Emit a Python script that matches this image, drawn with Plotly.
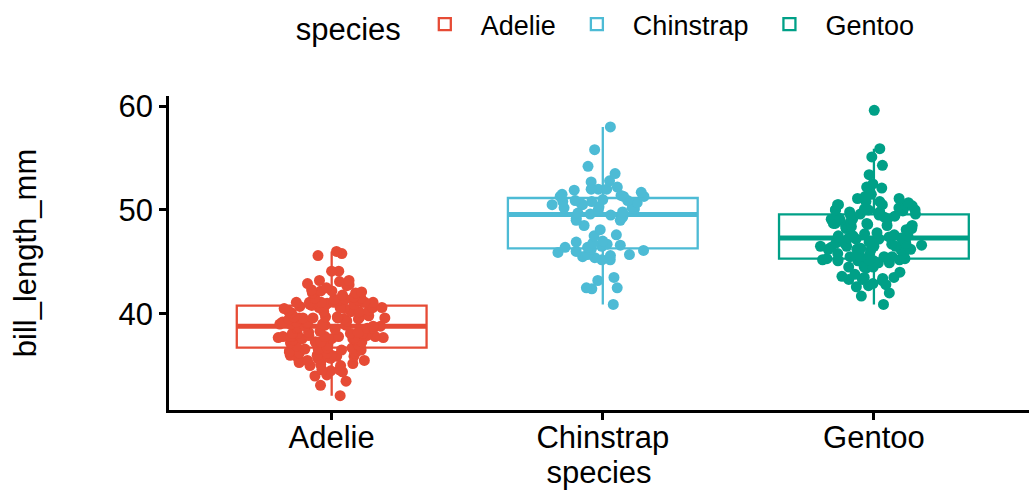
import numpy as np
import plotly.graph_objects as go

# Palmer penguins: bill length (mm) by species
species = ["Adelie", "Chinstrap", "Gentoo"]
colors = ["#E64B35", "#4DBBD5", "#00A087"]

adelie = [39.1, 39.5, 40.3, 36.7, 39.3, 38.9, 39.2, 34.1, 42.0, 37.8, 37.8, 41.1, 38.6, 34.6,
          36.6, 38.7, 42.5, 34.4, 46.0, 37.8, 37.7, 35.9, 38.2, 38.8, 35.3, 40.6, 40.5, 37.9,
          40.5, 39.5, 37.2, 39.5, 40.9, 36.4, 39.2, 38.8, 42.2, 37.6, 39.8, 36.5, 40.8, 36.0,
          44.1, 37.0, 39.6, 41.1, 37.5, 36.0, 42.3, 39.6, 40.1, 35.0, 42.0, 34.5, 41.4, 39.0,
          40.6, 36.5, 37.6, 35.7, 41.3, 37.6, 41.1, 36.4, 41.6, 35.5, 41.1, 35.9, 41.8, 33.5,
          39.7, 39.6, 45.8, 35.5, 42.8, 40.9, 37.2, 36.2, 42.1, 34.6, 42.9, 36.7, 35.1, 37.3,
          41.3, 36.3, 36.9, 38.3, 38.9, 35.7, 41.1, 34.0, 39.6, 36.2, 40.8, 38.1, 40.3, 33.1,
          43.2, 35.0, 41.0, 37.7, 37.8, 37.9, 39.7, 38.6, 38.2, 38.1, 43.2, 38.1, 45.6, 39.7,
          42.2, 39.6, 42.7, 38.6, 37.3, 35.7, 41.1, 36.2, 37.7, 40.2, 41.4, 35.2, 40.6, 38.8,
          41.5, 39.0, 44.1, 38.5, 43.1, 36.8, 37.5, 38.1, 41.1, 35.6, 40.2, 37.0, 39.7, 40.2,
          40.6, 32.1, 40.7, 37.3, 39.0, 39.2, 36.6, 36.0, 37.8, 36.0, 41.5]

chinstrap = [46.5, 50.0, 51.3, 45.4, 52.7, 45.2, 46.1, 51.3, 46.0, 51.3, 46.6, 51.7, 47.0, 52.0,
             45.9, 50.5, 50.3, 58.0, 46.4, 49.2, 42.4, 48.5, 43.2, 50.6, 46.7, 52.0, 50.5, 49.5,
             46.4, 52.8, 40.9, 54.2, 42.5, 51.0, 49.7, 47.5, 47.6, 52.0, 46.9, 53.5, 49.0, 46.2,
             50.9, 45.5, 50.9, 50.8, 50.1, 49.0, 51.5, 49.8, 48.1, 51.4, 45.7, 50.7, 42.5, 52.2,
             45.2, 49.3, 50.2, 45.6, 51.9, 46.8, 45.7, 55.8, 43.5, 49.6, 50.8, 50.2]

gentoo = [46.1, 50.0, 48.7, 50.0, 47.6, 46.5, 45.4, 46.7, 43.3, 46.8, 40.9, 49.0, 45.5, 48.4,
          45.8, 49.3, 42.0, 49.2, 46.2, 48.7, 50.2, 45.1, 46.5, 46.3, 42.9, 46.1, 44.5, 47.8,
          48.2, 50.0, 47.3, 42.8, 45.1, 59.6, 49.1, 48.4, 42.6, 44.4, 44.0, 48.7, 42.7, 49.6,
          45.3, 49.6, 50.5, 43.6, 45.5, 50.5, 44.9, 45.2, 46.6, 48.5, 45.1, 50.1, 46.5, 45.0,
          43.8, 45.5, 43.2, 50.4, 45.3, 46.2, 45.7, 54.3, 45.8, 49.8, 46.2, 49.5, 43.5, 50.7,
          47.7, 46.4, 48.2, 46.5, 46.4, 48.6, 47.5, 51.1, 45.2, 45.2, 49.1, 52.5, 47.4, 50.0,
          44.9, 50.8, 43.4, 51.3, 47.5, 52.1, 47.5, 52.2, 45.5, 49.5, 44.5, 50.8, 49.4, 46.9,
          48.4, 51.1, 48.5, 55.9, 47.2, 49.1, 47.3, 46.8, 41.7, 53.4, 43.3, 48.1, 50.5, 49.8,
          43.5, 51.5, 46.2, 55.1, 44.5, 48.8, 47.2, 46.8, 50.4, 45.2, 49.9]

values = [adelie, chinstrap, gentoo]
y_ticks = [40, 50, 60]

FONT = "Liberation Sans, Arial, Helvetica, sans-serif"
BOX_W = 0.7

fig = go.Figure()

# thick median bars underneath the jittered points
for name, vals, col in zip(species, values, colors):
    m = float(np.median(vals))
    fig.add_trace(go.Box(
        x=[name], q1=[m], median=[m], q3=[m], lowerfence=[m], upperfence=[m],
        width=BOX_W, whiskerwidth=0, line=dict(color=col, width=5),
        fillcolor="rgba(0,0,0,0)",
        boxpoints=False, showlegend=False, hoverinfo="skip",
    ))

# boxes with all points jittered on top
for name, vals, col in zip(species, values, colors):
    fig.add_trace(go.Box(
        x=[name] * len(vals), y=vals, name=name,
        width=BOX_W, whiskerwidth=0, line=dict(color=col, width=2.3),
        fillcolor="rgba(0,0,0,0)",
        boxpoints="all", jitter=0.58, pointpos=0,
        marker=dict(color=col, size=11, opacity=1),
    ))

axis_common = dict(
    showline=True, linecolor="black", linewidth=2.5,
    ticks="outside", ticklen=7, tickwidth=2.5, tickcolor="black",
    showgrid=False, zeroline=False,
    tickfont=dict(size=31, color="black", family=FONT),
)

fig.update_layout(
    width=1029, height=493,
    margin=dict(l=169, r=0, t=96, b=83),
    paper_bgcolor="white", plot_bgcolor="white",
    font=dict(family=FONT, color="black"),
    boxmode="overlay",
    xaxis=dict(
        **axis_common,
        type="category", categoryorder="array", categoryarray=species,
        range=[-0.6, 2.572], ticklabelstandoff=-9,
        title=dict(text="species", font=dict(size=31, color="black"), standoff=2),
    ),
    yaxis=dict(
        **axis_common,
        range=[30.725, 60.975], tickvals=y_ticks,
        title=dict(text="bill_length_mm", font=dict(size=31, color="black"), standoff=73),
    ),
    legend=dict(
        orientation="h", x=0.145, xanchor="left", y=1.225, yanchor="middle",
        itemwidth=62,
        title=dict(text="species", side="left", font=dict(size=31)),
        font=dict(size=27, color="black"),
        bgcolor="rgba(0,0,0,0)",
    ),
)

fig.write_html("out.html")
